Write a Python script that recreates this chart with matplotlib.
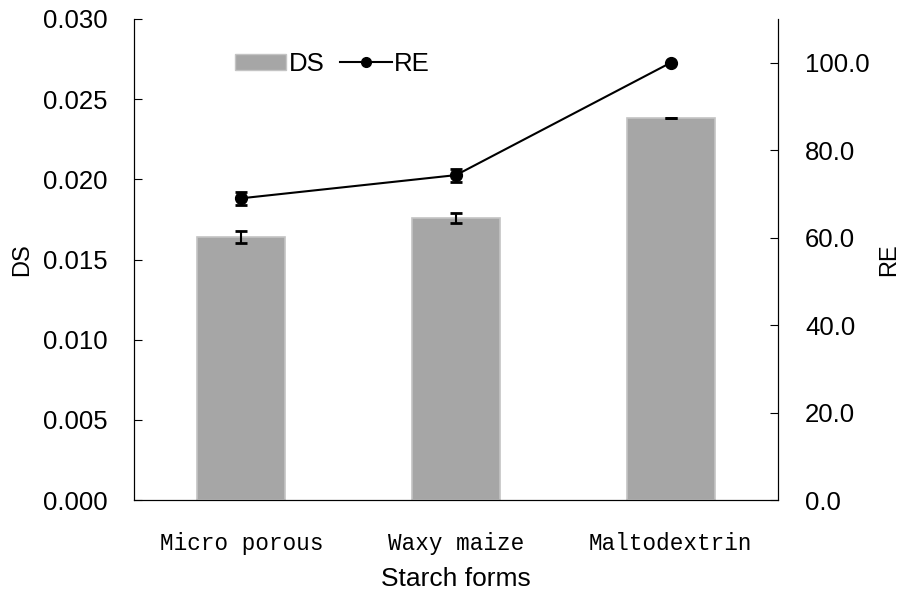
import matplotlib
matplotlib.use("Agg")
import matplotlib.pyplot as plt
from matplotlib.lines import Line2D
from matplotlib.patches import Patch
import numpy as np

# Данные: степень замещения (DS) и эффективность реакции (RE)
forms = ["Micro porous", "Waxy maize", "Maltodextrin"]
ds = [0.0164, 0.0176, 0.0238]
ds_err = [0.00038, 0.0003, 0.0]
re = [69.0, 74.3, 100.0]
re_err = [1.5, 1.5, 0.0]

plt.rcParams["font.family"] = ["Liberation Sans", "DejaVu Sans"]

fig = plt.figure(figsize=(9.01, 5.95), dpi=100)
ax = fig.add_axes([134 / 901, 1 - 500 / 595, 644 / 901, 481 / 595])
x = np.arange(len(forms))

bar_color = "#a6a6a6"
bar_edge = "#c4c4c4"
ax.bar(x, ds, width=0.41, color=bar_color, edgecolor=bar_edge, linewidth=1.2,
       zorder=2)
ax.errorbar(x, ds, yerr=ds_err, fmt="none", ecolor="black", elinewidth=1.5,
            capsize=4, capthick=2, zorder=3)
ax.set_ylim(0, 0.030)
ax.set_yticks(np.arange(0, 0.0301, 0.005))
ax.set_yticklabels([f"{v:.3f}" for v in np.arange(0, 0.0301, 0.005)])
ax.set_xlim(-0.5, 2.5)
ax.set_xticks(x)
ax.set_xticklabels(forms, family=["Liberation Mono", "DejaVu Sans Mono"],
                   fontsize=16.3)
ax.tick_params(axis="y", direction="in", length=6, labelsize=18.5, pad=19)
ax.tick_params(axis="x", direction="in", length=5, color="#444444", pad=23)
ax.set_xlabel("Starch forms", fontsize=19, labelpad=9)
ax.set_ylabel("DS", fontsize=17, labelpad=7)
ax.spines["top"].set_visible(False)

ax2 = ax.twinx()
ax2.errorbar(x, re, yerr=re_err, color="black", marker="o", markersize=8.5,
             linewidth=1.5, elinewidth=1.5, capsize=4, capthick=2, zorder=4)
ax2.set_ylim(0, 110)
ax2.set_yticks(np.arange(0, 101, 20))
ax2.set_yticklabels([f"{v:.1f}" for v in np.arange(0, 101, 20)])
ax2.tick_params(axis="y", direction="in", length=6, labelsize=18.5, pad=19.5)
ax2.set_ylabel("RE", fontsize=17, labelpad=6)
ax2.spines["top"].set_visible(False)

# Легенда в одну строку: столбец DS и линия RE
handles = [Patch(facecolor=bar_color, edgecolor=bar_edge),
           Line2D([], [], color="black", marker="o", markersize=7, linewidth=1.5)]
ax2.legend(handles, ["DS", "RE"], loc="center left",
           bbox_to_anchor=(0.121, 0.907), ncol=2, frameon=False, fontsize=18.5,
           handlelength=2.0, handleheight=0.6, handletextpad=0.1,
           columnspacing=0.6)

fig.savefig("out.png", dpi=100)
plt.close(fig)
